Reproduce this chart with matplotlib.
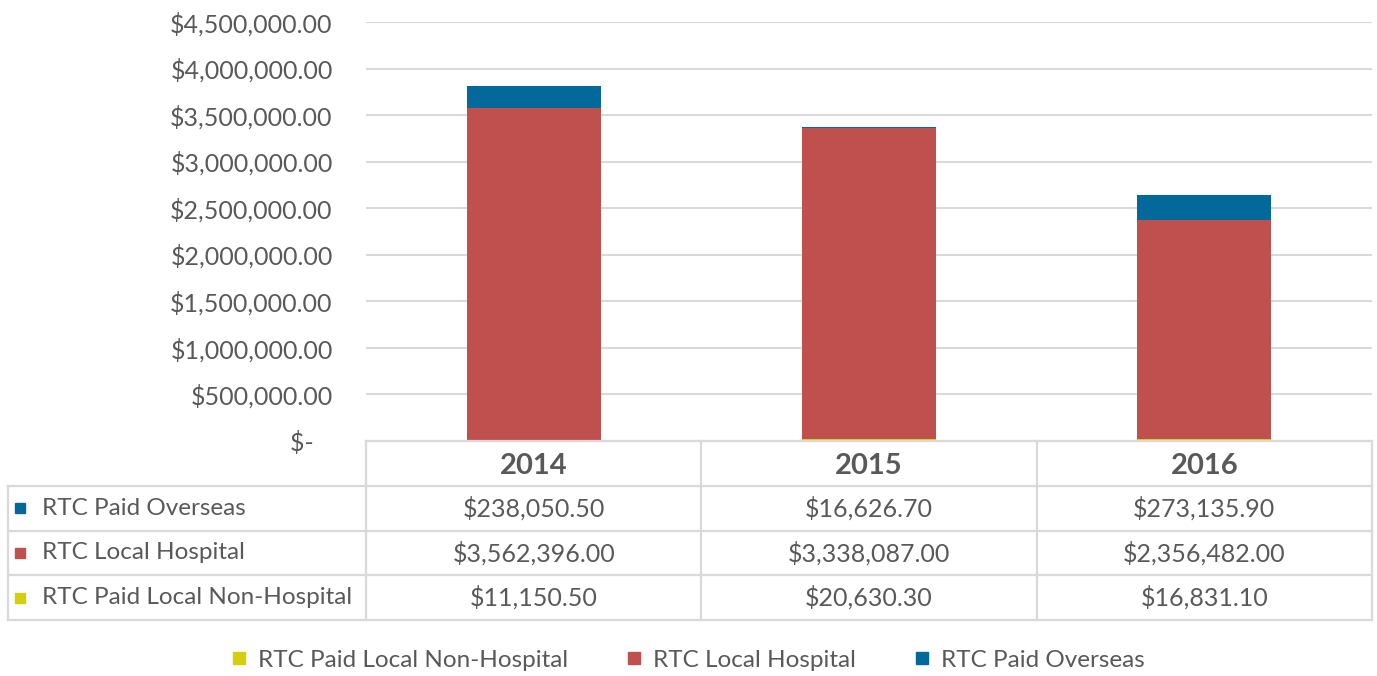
import matplotlib.pyplot as plt
import matplotlib.ticker as mticker
from matplotlib.lines import Line2D
import numpy as np

plt.rcParams['font.family'] = ['Lato', 'DejaVu Sans']

years = ['2014', '2015', '2016']
non_hospital = [11150.50, 20630.30, 16831.10]
local_hospital = [3562396.00, 3338087.00, 2356482.00]
overseas = [238050.50, 16626.70, 273135.90]

names = ['RTC Paid Local Non-Hospital', 'RTC Local Hospital', 'RTC Paid Overseas']
colors = ['#D4CF0A', '#C0504D', '#03689A']
text_col = '#595959'
grid_col = '#D9D9D9'

W, H = 1377, 676
fig = plt.figure(figsize=(W / 100, H / 100), dpi=100)


def px_axes(x0, y0, x1, y1):
    return fig.add_axes([x0 / W, 1 - y1 / H, (x1 - x0) / W, (y1 - y0) / H])


# bar area
ax = px_axes(366, 22, 1372, 441)
x = np.arange(len(years)) + 0.5
ax.bar(x, non_hospital, 0.4, color=colors[0])
ax.bar(x, local_hospital, 0.4, bottom=non_hospital, color=colors[1])
bottom2 = np.array(non_hospital) + np.array(local_hospital)
ax.bar(x, overseas, 0.4, bottom=bottom2, color=colors[2])
ax.set_xlim(0, 3)
ax.set_ylim(0, 4500000)
ax.yaxis.set_major_locator(mticker.MultipleLocator(500000))
ax.yaxis.set_major_formatter(mticker.FuncFormatter(
    lambda v, p: '$-   ' if v == 0 else '${:,.2f}'.format(v)))
ax.tick_params(axis='y', length=0, pad=24, labelsize=18, labelcolor=text_col)
ax.set_xticks([])
ax.grid(axis='y', color=grid_col, lw=1.5)
ax.set_axisbelow(True)
for s in ax.spines.values():
    s.set_visible(False)

# data table
tab = px_axes(8, 441, 1372, 620)
left = -358 / 335.33
tab.set_xlim(left, 3)
tab.set_ylim(4, 0)
tab.axis('off')
lw = 1.6
tab.plot([0, 3], [0, 0], color=grid_col, lw=lw, clip_on=False)
for r in [1, 2, 3, 4]:
    tab.plot([left, 3], [r, r], color=grid_col, lw=lw, clip_on=False)
for c in [0, 1, 2, 3]:
    tab.plot([c, c], [0, 4], color=grid_col, lw=lw, clip_on=False)
tab.plot([left, left], [1, 4], color=grid_col, lw=lw, clip_on=False)

for i, yr in enumerate(years):
    tab.text(i + 0.5, 0.55, yr, ha='center', va='center', fontsize=21,
             fontweight='bold', color=text_col)

rows = [(names[2], overseas, colors[2]),
        (names[1], local_hospital, colors[1]),
        (names[0], non_hospital, colors[0])]
for r, (name, vals, col) in enumerate(rows):
    yc = r + 1.5
    tab.plot(left + 0.035, yc, marker='s', ms=7, color=col, clip_on=False)
    tab.text(left + 0.1, yc, name, ha='left', va='center', fontsize=17.5, color=text_col)
    for i, v in enumerate(vals):
        tab.text(i + 0.5, yc, '${:,.2f}'.format(v), ha='center', va='center',
                 fontsize=18, color=text_col)

# legend
handles = [Line2D([], [], marker='s', ls='', ms=9, color=c) for c in colors]
fig.legend(handles, names, loc='center', bbox_to_anchor=(0.498, 1 - 660 / H),
           ncol=3, frameon=False, fontsize=17.5, labelcolor=text_col,
           handlelength=1.0, handletextpad=0.3, columnspacing=2.2)

fig.savefig('out.png', dpi=100)
